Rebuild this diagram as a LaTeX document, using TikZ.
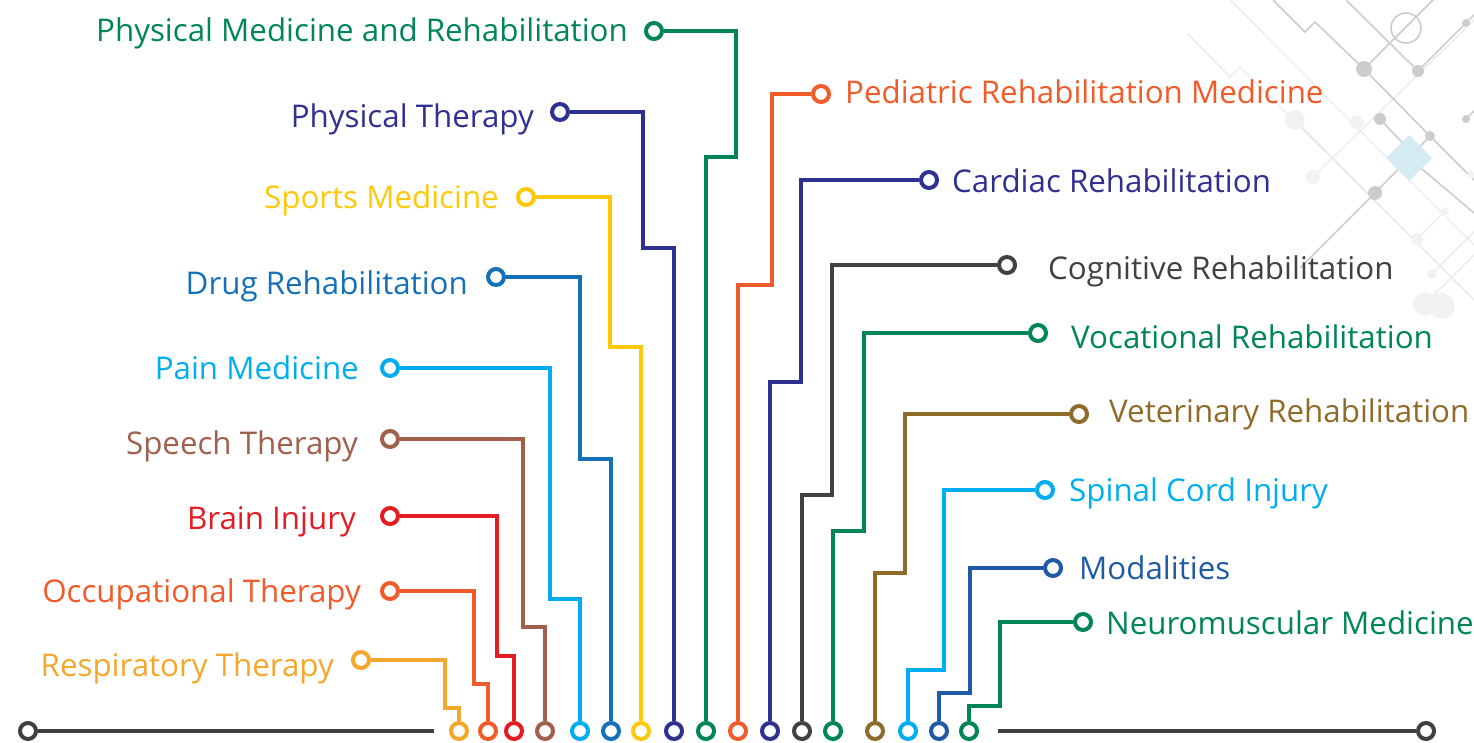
\documentclass[tikz,border=0pt]{standalone}
\usepackage{fontspec}
\setmainfont{Open Sans}
\definecolor{cResp}{HTML}{F5A72C}
\definecolor{cOcc}{HTML}{F15A29}
\definecolor{cBrain}{HTML}{E31B23}
\definecolor{cSpeech}{HTML}{A0604C}
\definecolor{cPain}{HTML}{00AEEF}
\definecolor{cDrug}{HTML}{1470B8}
\definecolor{cSports}{HTML}{FFC90A}
\definecolor{cPT}{HTML}{2E3192}
\definecolor{cPMR}{HTML}{00855A}
\definecolor{cPed}{HTML}{F15A29}
\definecolor{cCard}{HTML}{2E3192}
\definecolor{cCog}{HTML}{414042}
\definecolor{cVoc}{HTML}{00855A}
\definecolor{cVet}{HTML}{8F6B2A}
\definecolor{cSpinal}{HTML}{00AEEF}
\definecolor{cMod}{HTML}{1F5AA6}
\definecolor{cNeuro}{HTML}{00855A}
\definecolor{cBase}{HTML}{404041}
\definecolor{cDiam}{HTML}{D4EBF4}
\begin{document}
\begin{tikzpicture}[x=1pt,y=-1pt,
  wire/.style={line width=4.2pt},
  ring/.style={circle, draw=#1, line width=4pt, fill=white, minimum size=16pt, inner sep=0pt},
  lbl/.style={font=\fontsize{31.3}{37}\selectfont, inner sep=0pt, text=#1},
  deco/.style={draw=black!20, line width=1.6pt},
  decofaint/.style={draw=black!7, line width=1.6pt},
  decodot/.style={fill=black!20},
  decodotfaint/.style={fill=black!5}]
\useasboundingbox (0,0) rectangle (1474,742);
% ---------- background circuit decoration ----------
\draw[decofaint] (1187,33) -- (1230,77) -- (1240,67) -- (1474,300);
\draw[decofaint] (1230,0) -- (1474,245);
\draw[decofaint] (1295,120) -- (1474,300);
\draw[decofaint] (1313,177) -- (1474,20);
\draw[decofaint] (1445,211) -- (1417,239);
\draw[decofaint] (1432,274) -- (1474,232);
\draw[decofaint] (1425,304) -- (1474,255);
\draw[deco] (1273,0) -- (1305,32) -- (1315,22) -- (1364,69) -- (1430,136) -- (1474,180);
\draw[deco] (1364,69) -- (1433,0);
\draw[deco] (1346,0) -- (1418,71) -- (1474,15);
\draw[deco] (1380,119) -- (1409,150);
\draw[deco] (1430,136) -- (1409,158) -- (1375,193) -- (1300,268);
\draw[deco] (1409,158) -- (1474,213);
\draw[deco] (1466,119) -- (1474,111);
\draw[deco] (1406,28) circle[radius=15];
\fill[decodot] (1364,69) circle[radius=8];
\fill[decodot] (1418,71) circle[radius=6];
\fill[decodot] (1466,23) circle[radius=4];
\fill[decodot] (1380,119) circle[radius=6];
\fill[decodot] (1430,136) circle[radius=5];
\fill[decodot] (1466,119) circle[radius=4];
\fill[decodot] (1375,193) circle[radius=7];
\fill[decodotfaint] (1295,120) circle[radius=10];
\fill[decodotfaint] (1313,177) circle[radius=7];
\fill[decodotfaint] (1357,122) circle[radius=7];
\fill[decodotfaint] (1445,211) circle[radius=4];
\fill[decodotfaint] (1417,239) circle[radius=6];
\fill[decodotfaint] (1432,274) circle[radius=5];
\fill[decodotfaint] (1425,304) circle[radius=12];
\fill[decodotfaint] (1442,306) circle[radius=13];
\fill[decodotfaint] (1471,175) circle[radius=4];
\fill[cDiam] (1409,135) -- (1432,158) -- (1409,181) -- (1386,158) -- cycle;
% ---------- base line ----------
\node[ring=cBase] (baseL) at (28,731) {};
\node[ring=cBase] (baseR) at (1426,731) {};
\coordinate (baseLend) at (434,731);
\coordinate (baseRstart) at (998,731);
\draw[wire, cBase, line width=4.6pt] (baseL.east) -- (baseLend);
\draw[wire, cBase, line width=4.6pt] (baseRstart) -- (baseR.west);
% ---------- rings ----------
% left group
\node[ring=cResp] (aResp) at (361,660) {};
\node[ring=cOcc] (aOcc) at (390,591) {};
\node[ring=cBrain] (aBrain) at (390,516) {};
\node[ring=cSpeech] (aSpeech) at (390,439) {};
\node[ring=cPain] (aPain) at (390,368) {};
\node[ring=cDrug] (aDrug) at (496,277) {};
\node[ring=cSports] (aSports) at (526,197) {};
\node[ring=cPT] (aPT) at (560,112) {};
\node[ring=cPMR] (aPMR) at (654,31) {};
% right group
\node[ring=cPed] (aPed) at (821,94) {};
\node[ring=cCard] (aCard) at (929,180) {};
\node[ring=cCog] (aCog) at (1007,265) {};
\node[ring=cVoc] (aVoc) at (1038,333) {};
\node[ring=cVet] (aVet) at (1079,414) {};
\node[ring=cSpinal] (aSpinal) at (1045,490) {};
\node[ring=cMod] (aMod) at (1053,568) {};
\node[ring=cNeuro] (aNeuro) at (1083,622) {};
% bottom rings
\node[ring=cResp] (bResp) at (459,731) {};
\node[ring=cOcc] (bOcc) at (488,731) {};
\node[ring=cBrain] (bBrain) at (514,731) {};
\node[ring=cSpeech] (bSpeech) at (545,731) {};
\node[ring=cPain] (bPain) at (580,731) {};
\node[ring=cDrug] (bDrug) at (611,731) {};
\node[ring=cSports] (bSports) at (641,731) {};
\node[ring=cPT] (bPT) at (674,731) {};
\node[ring=cPMR] (bPMR) at (706,731) {};
\node[ring=cPed] (bPed) at (738,731) {};
\node[ring=cCard] (bCard) at (770,731) {};
\node[ring=cCog] (bCog) at (802,731) {};
\node[ring=cVoc] (bVoc) at (833,731) {};
\node[ring=cVet] (bVet) at (875,731) {};
\node[ring=cSpinal] (bSpinal) at (908,731) {};
\node[ring=cMod] (bMod) at (939,731) {};
\node[ring=cNeuro] (bNeuro) at (969,731) {};
% ---------- wires ----------
\draw[wire, cResp] (aResp.east) -| (445,708) -| (bResp.north);
\draw[wire, cOcc] (aOcc.east) -| (474,684) -| (bOcc.north);
\draw[wire, cBrain] (aBrain.east) -| (497,656) -| (bBrain.north);
\draw[wire, cSpeech] (aSpeech.east) -| (523,627) -| (bSpeech.north);
\draw[wire, cPain] (aPain.east) -| (550,599) -| (bPain.north);
\draw[wire, cDrug] (aDrug.east) -| (580,459) -| (bDrug.north);
\draw[wire, cSports] (aSports.east) -| (610,347) -| (bSports.north);
\draw[wire, cPT] (aPT.east) -| (643,248) -| (bPT.north);
\draw[wire, cPMR] (aPMR.east) -| (736,157) -| (bPMR.north);
\draw[wire, cPed] (aPed.west) -| (772,285) -| (bPed.north);
\draw[wire, cCard] (aCard.west) -| (801,382) -| (bCard.north);
\draw[wire, cCog] (aCog.west) -| (832,495) -| (bCog.north);
\draw[wire, cVoc] (aVoc.west) -| (864,531) -| (bVoc.north);
\draw[wire, cVet] (aVet.west) -| (905,573) -| (bVet.north);
\draw[wire, cSpinal] (aSpinal.west) -| (944,670) -| (bSpinal.north);
\draw[wire, cMod] (aMod.west) -| (970,693) -| (bMod.north);
\draw[wire, cNeuro] (aNeuro.west) -| (1000,706) -| (bNeuro.north);
% ---------- labels ----------
\node[lbl=cResp, anchor=mid east] (tResp) at (334,674) {Respiratory Therapy};
\node[lbl=cOcc, anchor=mid east] (tOcc) at (361,600) {Occupational Therapy};
\node[lbl=cBrain, anchor=mid east] (tBrain) at (356,527) {Brain Injury};
\node[lbl=cSpeech, anchor=mid east] (tSpeech) at (358,452) {Speech Therapy};
\node[lbl=cPain, anchor=mid east] (tPain) at (359,377) {Pain Medicine};
\node[lbl=cDrug, anchor=mid east] (tDrug) at (468,292) {Drug Rehabilitation};
\node[lbl=cSports, anchor=mid east] (tSports) at (499,206) {Sports Medicine};
\node[lbl=cPT, anchor=mid east] (tPT) at (534,125) {Physical Therapy};
\node[lbl=cPMR, anchor=mid east] (tPMR) at (628,39) {Physical Medicine and Rehabilitation};
\node[lbl=cPed, anchor=mid west] (tPed) at (845,101) {Pediatric Rehabilitation Medicine};
\node[lbl=cCard, anchor=mid west] (tCard) at (952,190) {Cardiac Rehabilitation};
\node[lbl=cCog, anchor=mid west] (tCog) at (1048,277) {Cognitive Rehabilitation};
\node[lbl=cVoc, anchor=mid west] (tVoc) at (1071,346) {Vocational Rehabilitation};
\node[lbl=cVet, anchor=mid west] (tVet) at (1109,420) {Veterinary Rehabilitation};
\node[lbl=cSpinal, anchor=mid west] (tSpinal) at (1069,499) {Spinal Cord Injury};
\node[lbl=cMod, anchor=mid west] (tMod) at (1079,577) {Modalities};
\node[lbl=cNeuro, anchor=mid west] (tNeuro) at (1106,632) {Neuromuscular Medicine};
\end{tikzpicture}
\end{document}
